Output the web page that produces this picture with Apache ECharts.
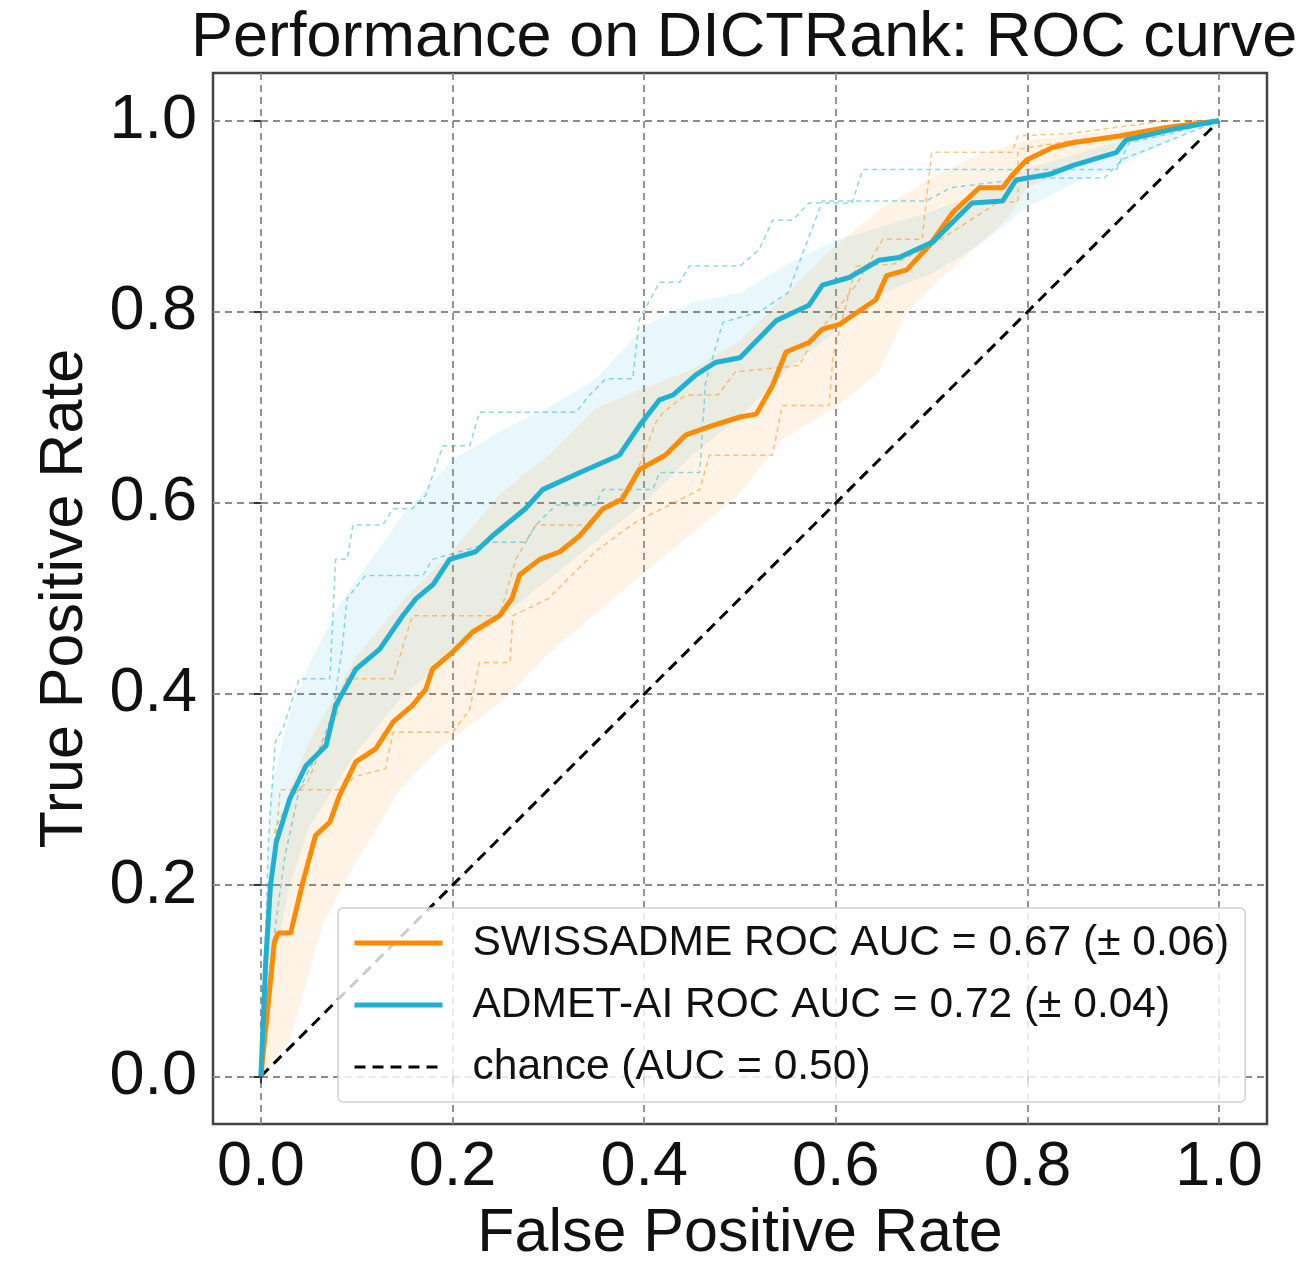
<!DOCTYPE html>
<html>
<head>
<meta charset="utf-8">
<script src="https://cdn.jsdelivr.net/npm/echarts@6/dist/echarts.min.js"></script>
<style>
  html, body { margin: 0; padding: 0; background: #fff; }
  #chart { width: 1301px; height: 1270px; }
</style>
</head>
<body>
<div id="chart"></div>
<script>
// tick labels
const ticks = [0, 0.2, 0.4, 0.6, 0.8, 1.0]

// mean ROC curves [fpr, tpr]
const swissMean = [[0,0],[0.008,0.08],[0.014,0.14],[0.018,0.15],[0.031,0.15],[0.044,0.204],[0.057,0.252],[0.072,0.266],[0.082,0.294],[0.099,0.329],[0.12,0.343],[0.138,0.371],[0.158,0.388],[0.172,0.405],[0.179,0.426],[0.2,0.444],[0.221,0.465],[0.249,0.482],[0.262,0.5],[0.27,0.525],[0.291,0.541],[0.312,0.549],[0.333,0.566],[0.357,0.594],[0.377,0.604],[0.395,0.635],[0.422,0.65],[0.443,0.671],[0.471,0.681],[0.5,0.69],[0.517,0.693],[0.534,0.723],[0.548,0.758],[0.572,0.768],[0.586,0.782],[0.604,0.787],[0.642,0.813],[0.653,0.838],[0.674,0.844],[0.698,0.87],[0.722,0.904],[0.75,0.93],[0.774,0.93],[0.784,0.943],[0.799,0.959],[0.826,0.972],[0.847,0.977],[0.896,0.984],[0.945,0.993],[1,1]]
const admetMean = [[0,0],[0.005,0.12],[0.01,0.2],[0.016,0.245],[0.03,0.29],[0.047,0.325],[0.068,0.346],[0.078,0.388],[0.099,0.426],[0.124,0.447],[0.148,0.482],[0.162,0.5],[0.18,0.515],[0.197,0.541],[0.224,0.549],[0.242,0.566],[0.276,0.594],[0.294,0.614],[0.333,0.632],[0.374,0.65],[0.395,0.681],[0.416,0.708],[0.43,0.713],[0.454,0.734],[0.474,0.747],[0.5,0.752],[0.538,0.791],[0.572,0.807],[0.586,0.828],[0.614,0.836],[0.645,0.854],[0.666,0.857],[0.701,0.873],[0.742,0.914],[0.774,0.916],[0.788,0.938],[0.823,0.944],[0.847,0.953],[0.893,0.967],[0.903,0.98],[0.951,0.991],[1,1]]
const chance = [[0,0],[1,1]]

// +/- 1 std bands
const swissUpper = [[0,0],[0.01,0.2],[0.03,0.3],[0.05,0.35],[0.1,0.44],[0.15,0.5],[0.2,0.55],[0.25,0.61],[0.3,0.65],[0.35,0.7],[0.4,0.72],[0.45,0.74],[0.5,0.77],[0.55,0.82],[0.6,0.87],[0.65,0.91],[0.7,0.94],[0.75,0.965],[0.8,0.98],[0.9,0.99],[1,1]]
const swissLower = [[0,0],[0.03,0.037],[0.065,0.16],[0.1,0.225],[0.145,0.3],[0.187,0.343],[0.255,0.395],[0.297,0.44],[0.38,0.51],[0.44,0.56],[0.5,0.61],[0.544,0.667],[0.6,0.7],[0.645,0.737],[0.674,0.8],[0.715,0.84],[0.778,0.897],[0.8,0.93],[0.9,0.975],[1,1]]
const admetUpper = [[0,0],[0.01,0.3],[0.03,0.38],[0.05,0.43],[0.08,0.49],[0.1,0.52],[0.15,0.59],[0.2,0.645],[0.25,0.675],[0.3,0.7],[0.35,0.73],[0.4,0.785],[0.45,0.81],[0.5,0.82],[0.55,0.85],[0.6,0.875],[0.65,0.89],[0.7,0.905],[0.75,0.925],[0.8,0.95],[0.85,0.965],[0.9,0.98],[0.95,0.99],[1,1]]
const admetLower = [[0,0],[0.01,0.1],[0.03,0.2],[0.05,0.26],[0.1,0.34],[0.15,0.4],[0.2,0.44],[0.25,0.48],[0.3,0.52],[0.35,0.56],[0.4,0.6],[0.45,0.65],[0.5,0.69],[0.55,0.74],[0.6,0.78],[0.65,0.82],[0.7,0.84],[0.75,0.87],[0.8,0.91],[0.85,0.935],[0.9,0.955],[0.95,0.98],[1,1]]

// individual folds (thin dashed)
const swissFoldA = [[0,0],[0.008,0.15],[0.015,0.26],[0.03,0.29],[0.05,0.31],[0.065,0.35],[0.08,0.38],[0.089,0.416],[0.138,0.416],[0.158,0.482],[0.249,0.482],[0.266,0.541],[0.287,0.577],[0.34,0.577],[0.378,0.61],[0.391,0.629],[0.412,0.684],[0.42,0.695],[0.443,0.713],[0.477,0.713],[0.495,0.737],[0.562,0.744],[0.576,0.771],[0.621,0.828],[0.649,0.876],[0.69,0.876],[0.7,0.967],[0.784,0.967],[0.79,0.984],[0.847,0.987],[0.945,1],[1,1]]
const swissFoldB = [[0,0],[0.01,0.18],[0.02,0.3],[0.08,0.3],[0.099,0.314],[0.13,0.322],[0.138,0.36],[0.2,0.36],[0.218,0.384],[0.228,0.433],[0.26,0.433],[0.263,0.482],[0.3,0.5],[0.35,0.55],[0.391,0.58],[0.458,0.614],[0.468,0.65],[0.534,0.65],[0.544,0.702],[0.593,0.702],[0.597,0.754],[0.621,0.848],[0.66,0.85],[0.7,0.87],[0.77,0.915],[0.79,0.915],[0.79,0.97],[0.85,0.98],[0.95,0.99],[1,1]]
const admetFoldA = [[0,0],[0.008,0.25],[0.015,0.35],[0.023,0.364],[0.04,0.416],[0.072,0.416],[0.078,0.541],[0.09,0.541],[0.096,0.577],[0.127,0.577],[0.138,0.594],[0.158,0.594],[0.172,0.608],[0.19,0.66],[0.218,0.66],[0.228,0.695],[0.329,0.695],[0.343,0.713],[0.36,0.73],[0.388,0.73],[0.395,0.792],[0.416,0.831],[0.437,0.831],[0.447,0.848],[0.5,0.848],[0.52,0.865],[0.534,0.896],[0.555,0.896],[0.572,0.914],[0.617,0.914],[0.628,0.949],[0.893,0.949],[0.906,0.977],[0.951,0.987],[1,1]]
const admetFoldB = [[0,0],[0.01,0.12],[0.025,0.23],[0.04,0.3],[0.06,0.34],[0.075,0.38],[0.085,0.45],[0.09,0.5],[0.109,0.524],[0.169,0.524],[0.179,0.541],[0.242,0.559],[0.276,0.559],[0.287,0.577],[0.308,0.598],[0.349,0.598],[0.357,0.614],[0.409,0.614],[0.416,0.632],[0.458,0.632],[0.464,0.726],[0.482,0.789],[0.52,0.8],[0.55,0.82],[0.586,0.916],[0.694,0.916],[0.72,0.93],[0.8,0.94],[0.88,0.94],[0.9,0.96],[0.95,0.98],[1,1]]

const names = [
  'SWISSADME ROC AUC = 0.67 (\u00b1 0.06)',
  'ADMET-AI ROC AUC = 0.72 (\u00b1 0.04)',
  'chance (AUC = 0.50)'
]

const ORANGE = '#ff8c00'
const BLUE = '#1fb1d3'
const FONT = 'Liberation Sans, Arial, sans-serif'

function band(upper, lower, fill) {
  return {
    type: 'custom',
    silent: true,
    z: 1,
    data: [0],
    renderItem: (params, api) => {
      let pts = upper.concat(lower.slice().reverse()).map(p => api.coord(p))
      return { type: 'polygon', shape: { points: pts }, style: { fill: fill } }
    }
  }
}

function fold(data, color) {
  return {
    type: 'line', data: data, showSymbol: false, silent: true, z: 2,
    lineStyle: { color: color, width: 1.5, type: [5, 4], opacity: 0.5 }
  }
}

let myChart = echarts.init(document.getElementById('chart'))

let option = {
  animation: false,
  textStyle: { fontFamily: FONT },
  title: {
    text: 'Performance on DICTRank: ROC curve',
    left: 186,
    top: 2,
    textStyle: { fontSize: 63, fontWeight: 'normal', color: '#111', fontFamily: FONT }
  },
  grid: {
    left: 213, top: 73, width: 1054, height: 1053,
    show: true, borderColor: '#444', borderWidth: 2.5, backgroundColor: 'transparent'
  },
  legend: {
    data: [
      { name: names[0], lineStyle: { width: 5 } },
      { name: names[1], lineStyle: { width: 5 } },
      { name: names[2], lineStyle: { width: 3 } }
    ],
    orient: 'vertical',
    left: 338,
    top: 908,
    padding: [10, 16, 10, 14],
    itemWidth: 88,
    itemHeight: 14,
    itemGap: 12,
    itemStyle: { opacity: 0 },
    backgroundColor: 'rgba(255,255,255,0.8)',
    borderColor: '#d0d0d0',
    borderWidth: 1.5,
    borderRadius: 5,
    textStyle: { fontSize: 42.5, color: '#111', lineHeight: 50, padding: [0, 0, 0, 25], fontFamily: FONT }
  },
  xAxis: {
    type: 'value',
    min: -0.05,
    max: 1.05,
    splitNumber: 5,
    name: 'False Positive Rate',
    nameLocation: 'middle',
    nameGap: 44,
    nameTextStyle: { fontSize: 61, color: '#111', fontFamily: FONT },
    axisLine: { show: false },
    axisTick: { show: true, customValues: ticks, length: 7, lineStyle: { color: '#333', width: 2 } },
    axisLabel: {
      customValues: ticks,
      fontSize: 63, color: '#111', margin: 12,
      formatter: v => v.toFixed(1)
    },
    splitLine: { show: true, lineStyle: { color: '#8a8a8a', width: 1.8, type: [7, 5] } }
  },
  yAxis: {
    type: 'value',
    min: -0.05,
    max: 1.05,
    splitNumber: 5,
    name: 'True Positive Rate',
    nameLocation: 'middle',
    nameGap: 117,
    nameTextStyle: { fontSize: 61, color: '#111', fontFamily: FONT },
    axisLine: { show: false },
    axisTick: { show: true, customValues: ticks, length: 7, lineStyle: { color: '#333', width: 2 } },
    axisLabel: {
      customValues: ticks,
      fontSize: 63, color: '#111', margin: 16,
      formatter: v => v.toFixed(1)
    },
    splitLine: { show: true, lineStyle: { color: '#8a8a8a', width: 1.8, type: [7, 5] } }
  },
  series: [
    band(admetUpper, admetLower, 'rgba(31,177,211,0.1)'),
    band(swissUpper, swissLower, 'rgba(255,140,0,0.1)'),
    fold(swissFoldA, ORANGE),
    fold(swissFoldB, ORANGE),
    fold(admetFoldA, BLUE),
    fold(admetFoldB, BLUE),
    {
      name: names[0], type: 'line', data: swissMean, showSymbol: false, symbol: 'none', z: 4,
      itemStyle: { color: ORANGE },
      lineStyle: { color: ORANGE, width: 5 }
    },
    {
      name: names[1], type: 'line', data: admetMean, showSymbol: false, symbol: 'none', z: 5,
      itemStyle: { color: BLUE },
      lineStyle: { color: BLUE, width: 5 }
    },
    {
      name: names[2], type: 'line', data: chance, showSymbol: false, symbol: 'none', z: 3,
      itemStyle: { color: '#000' },
      lineStyle: { color: '#000', width: 3, type: [11, 7] }
    }
  ]
}

myChart.setOption(option)
</script>
</body>
</html>
